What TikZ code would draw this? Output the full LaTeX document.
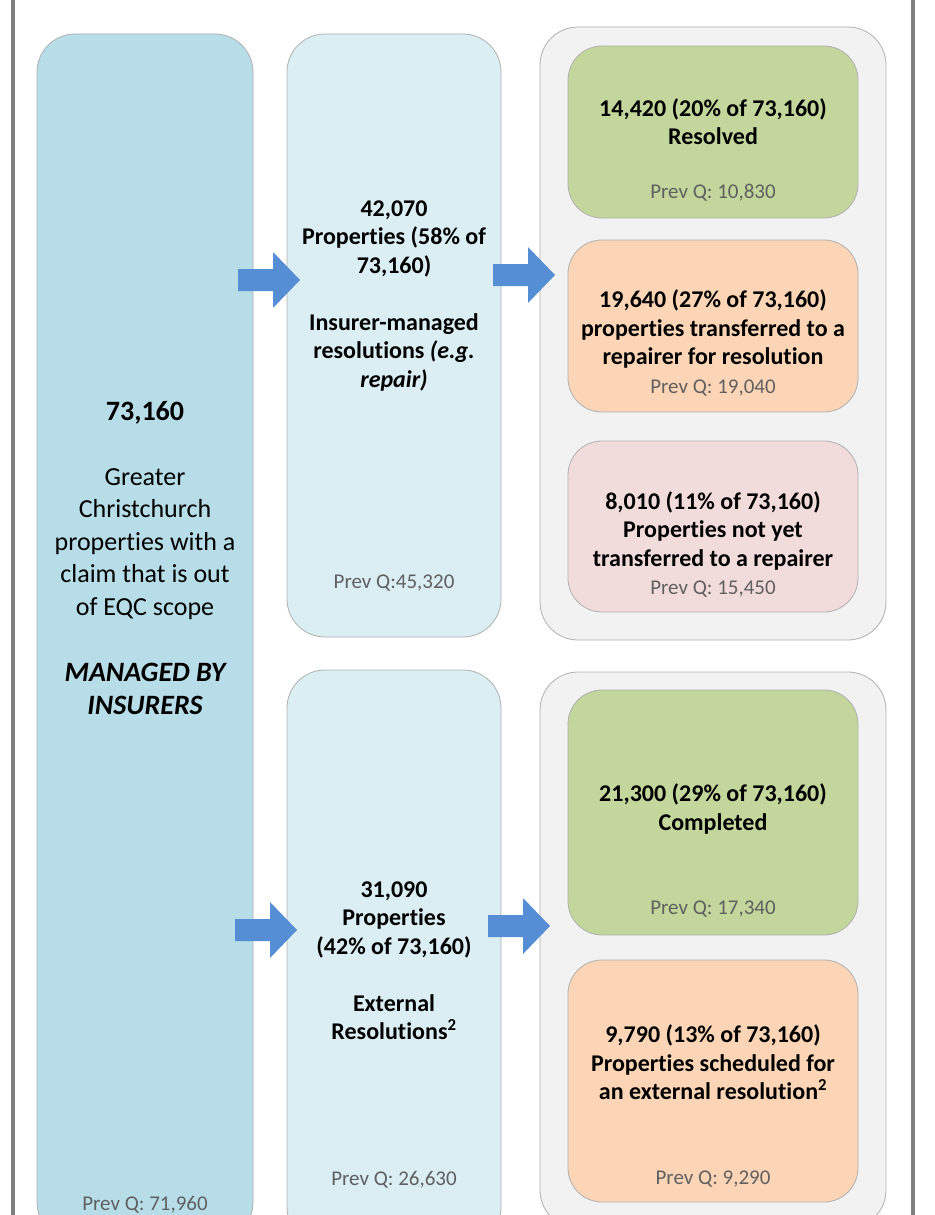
\documentclass[tikz,border=0pt]{standalone}
\usepackage{fontspec}
\setmainfont{Carlito}[Ligatures=NoCommon, RawFeature={-liga;-clig;-calt}]
\usepackage{tikz}
\usetikzlibrary{positioning}

\definecolor{mainblue}{HTML}{B7DDE8}
\definecolor{lightblue}{HTML}{DAEEF3}
\definecolor{panelgray}{HTML}{F2F2F2}
\definecolor{okgreen}{HTML}{C3D69B}
\definecolor{peach}{HTML}{FBD5B5}
\definecolor{rose}{HTML}{F2DCDB}
\definecolor{arrowblue}{HTML}{558ED5}
\definecolor{prevgray}{HTML}{606060}
\definecolor{boxline}{HTML}{B0B0B0}
\definecolor{framegray}{HTML}{7F7F7F}

\newcommand{\bigbold}[1]{{\fontsize{28}{34}\selectfont\bfseries #1}}

\tikzset{
blockarrow/.pic={\fill[arrowblue] (0,-11) -- (35,-11) -- (35,-28) -- (62,0) -- (35,28) -- (35,11) -- (0,11) -- cycle;}
}

\begin{document}
\begin{tikzpicture}[
x=1pt, y=-1pt,
panel/.style={draw=boxline, line width=0.8pt, rounded corners=38pt, inner sep=0pt},
subbox/.style={draw=boxline, line width=0.8pt, rounded corners=34pt, inner sep=0pt, minimum width=290pt},
bigtext/.style={align=center, font=\fontsize{26}{32.5}\selectfont},
figtext/.style={align=center, font=\fontsize{24}{28.5}\selectfont\bfseries},
prev/.style={text=prevgray, font=\fontsize{21}{25}\selectfont}
]
\useasboundingbox (0,0) rectangle (934,1215);
\clip (0,0) rectangle (934,1215);
\fill[white] (0,0) rectangle (934,1215);
\draw[framegray, line width=4pt] (13,0) -- (13,1215);
\draw[framegray, line width=4pt] (913,0) -- (913,1215);

% columns
\node[panel, fill=mainblue, minimum width=216pt, minimum height=1206pt] (total) at (145,637) {};
\node[panel, fill=lightblue, minimum width=214pt, minimum height=603pt] (insurer) at (394,335.5) {};
\node[panel, fill=lightblue, minimum width=214pt, minimum height=575pt] (external) at (394,957.5) {};
\node[panel, fill=panelgray, minimum width=346pt, minimum height=613pt] (insurerout) at (713,333.5) {};
\node[panel, fill=panelgray, minimum width=346pt, minimum height=556pt] (externalout) at (713,950) {};

% outcome boxes
\node[subbox, fill=okgreen, minimum height=172pt] (resolved) at (713,132) {};
\node[subbox, fill=peach, minimum height=172pt] (transferred) at (713,326) {};
\node[subbox, fill=rose, minimum height=171pt] (waiting) at (713,526.5) {};
\node[subbox, fill=okgreen, minimum height=245pt] (completed) at (713,812.5) {};
\node[subbox, fill=peach, minimum height=242pt] (scheduled) at (713,1081) {};

% texts
\node[bigtext] (totaltext) at (145,558) {\bigbold{73,160}\\[32pt] Greater\\ Christchurch\\ properties with a\\ claim that is out\\ of EQC scope\\[34pt] \bigbold{\itshape MANAGED BY}\\ \bigbold{\itshape INSURERS}};
\node[prev] (totalprev) at (145,1205) {Prev Q: 71,960};

\node[figtext] (insurertext) at (394,296) {42,070\\ Properties (58\% of\\ 73,160)\\[28.5pt] Insurer-managed\\ resolutions \textit{(e.g.}\\ \textit{repair)}};
\node[prev] (insurerprev) at (394,583) {Prev Q:45,320};

\node[figtext] (externaltext) at (394,960.5) {31,090\\ Properties\\ (42\% of 73,160)\\[28.5pt] External\\ Resolutions\textsuperscript{2}};
\node[prev] (externalprev) at (394,1180) {Prev Q: 26,630};

\node[figtext] (resolvedtext) at (713,121.5) {14,420 (20\% of 73,160)\\ Resolved};
\node[prev] (resolvedprev) at (713,193) {Prev Q: 10,830};

\node[figtext] (transferredtext) at (713,329) {19,640 (27\% of 73,160)\\ properties transferred to a\\ repairer for resolution};
\node[prev] (transferredprev) at (713,388) {Prev Q: 19,040};

\node[figtext] (waitingtext) at (713,530.5) {8,010 (11\% of 73,160)\\ Properties not yet\\ transferred to a repairer};
\node[prev] (waitingprev) at (713,589) {Prev Q: 15,450};

\node[figtext] (completedtext) at (713,809) {21,300 (29\% of 73,160)\\ Completed};
\node[prev] (completedprev) at (713,909) {Prev Q: 17,340};

\node[figtext] (scheduledtext) at (713,1062.5) {9,790 (13\% of 73,160)\\ Properties scheduled for\\ an external resolution\textsuperscript{2}};
\node[prev] (scheduledprev) at (713,1179) {Prev Q: 9,290};

% flow arrows
\coordinate (toin) at (238,280);
\coordinate (toinout) at (493,275);
\coordinate (toext) at (235,930);
\coordinate (toextout) at (488,926);
\pic (inarrow) at (toin) {blockarrow};
\pic (inoutarrow) at (toinout) {blockarrow};
\pic (extarrow) at (toext) {blockarrow};
\pic (extoutarrow) at (toextout) {blockarrow};
\end{tikzpicture}
\end{document}
